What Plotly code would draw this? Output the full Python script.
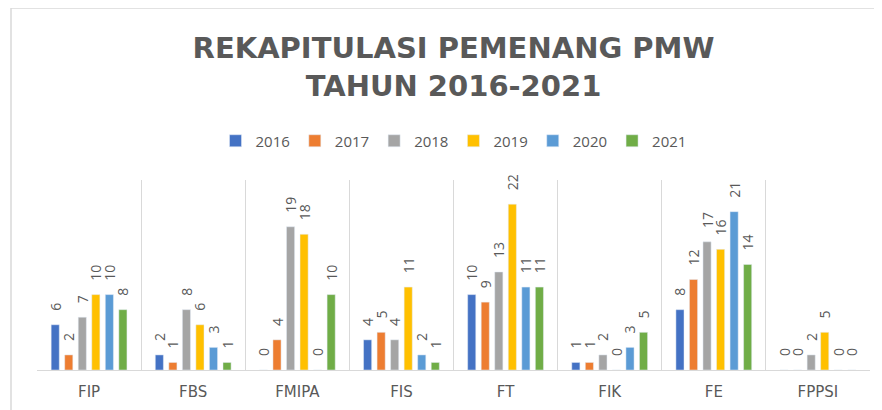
import plotly.graph_objects as go

categories = ["FIP", "FBS", "FMIPA", "FIS", "FT", "FIK", "FE", "FPPSI"]
years = ["2016", "2017", "2018", "2019", "2020", "2021"]
v2016 = [6, 2, 0, 4, 10, 1, 8, 0]
v2017 = [2, 1, 4, 5, 9, 1, 12, 0]
v2018 = [7, 8, 19, 4, 13, 2, 17, 2]
v2019 = [10, 6, 18, 11, 22, 0, 16, 5]
v2020 = [10, 3, 0, 2, 11, 3, 21, 0]
v2021 = [8, 1, 10, 1, 11, 5, 14, 0]
colors = ["#4472C4", "#ED7D31", "#A5A5A5", "#FFC000", "#5B9BD5", "#70AD47"]

series = [v2016, v2017, v2018, v2019, v2020, v2021]
TXT = "#595959"
GRID = "#D9D9D9"
PAD = "\u00a0\u00a0\u00a0"

fig = go.Figure()
for name, vals, col in zip(years, series, colors):
    fig.add_trace(go.Bar(
        x=categories, y=vals, name=name, marker_color=col,
        text=[PAD + str(v) for v in vals], textposition="outside", textangle=-90,
        textfont=dict(size=14, color=TXT, family="Open Sans"),
        cliponaxis=False, constraintext="none",
    ))

fig.update_layout(
    width=882, height=410,
    margin=dict(l=29, r=20, t=172, b=48, autoexpand=False),
    paper_bgcolor="white", plot_bgcolor="white",
    barmode="group", bargap=0.22, bargroupgap=0.4,
    font=dict(family="Open Sans", color=TXT),
    title=dict(
        text="REKAPITULASI PEMENANG PMW<br>TAHUN 2016-2021",
        x=0.5, xref="paper", xanchor="center",
        y=1 - 50 / 410, yanchor="middle",
        font=dict(size=29, color=TXT, family="DejaVu Sans", weight="bold"),
    ),
    legend=dict(
        orientation="h", x=0.5, xanchor="center",
        y=(362 - 133) / 190, yanchor="middle",
        font=dict(size=15, color=TXT), itemwidth=30,
        traceorder="normal",
    ),
    xaxis=dict(
        tickson="boundaries", showgrid=True, gridcolor=GRID, gridwidth=1,
        showline=True, linecolor=GRID, linewidth=1, ticks="",
        tickfont=dict(size=15, color=TXT, family="DejaVu Sans"), ticklabelstandoff=8,
        automargin=False,
    ),
    yaxis=dict(range=[0, 25.2], visible=False, showgrid=False, automargin=False),
    shapes=[
        dict(type="line", xref="paper", yref="paper",
             x0=(3 - 29) / 833, x1=(3 - 29) / 833, y0=362 / 190, y1=-0.3,
             line=dict(color=GRID, width=1.5)),
        dict(type="line", xref="paper", yref="paper",
             x0=(3 - 29) / 833, x1=1.05, y0=362 / 190, y1=362 / 190,
             line=dict(color=GRID, width=1.5)),
    ],
)

fig.write_html("out.html")
